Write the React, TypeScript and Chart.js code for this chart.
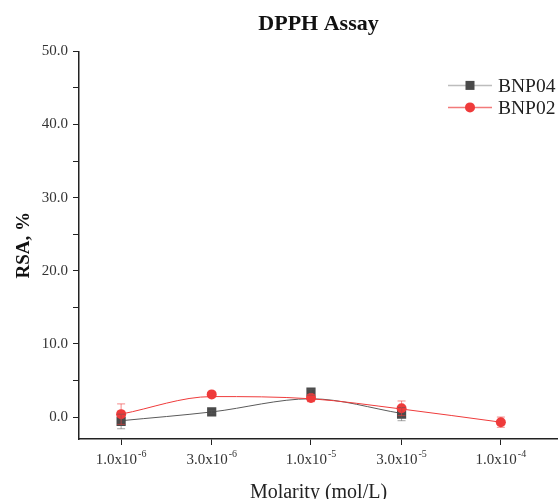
import React, { useEffect, useRef } from "react";
import { Chart, registerables } from "chart.js";

Chart.register(...registerables);

const chartTitle = "DPPH Assay";
const xAxisTitle = "Molarity (mol/L)";
const yAxisTitle = "RSA, %";
const molarities = [1e-6, 3e-6, 1e-5, 3e-5, 1e-4];
const xTickBases = ["1.0x10", "3.0x10", "1.0x10", "3.0x10", "1.0x10"];
const xTickExponents = ["-6", "-6", "-5", "-5", "-4"];
const yTickValues = [0, 5, 10, 15, 20, 25, 30, 35, 40, 45, 50];
const seriesNames = ["BNP04", "BNP02"];

// measured points
const bnp04Values = [-0.6, 0.7, 3.4, 0.4];
const bnp04Errors = [1.0, 0.2, 0.4, 0.9];
const bnp02Values = [0.4, 3.1, 2.6, 1.2, -0.7];
const bnp02Errors = [1.4, 0.2, 0.5, 1.0, 0.7];
// fitted curves read at the molarity positions
const bnp04Fit = [-0.5, 0.7, 2.5, 0.5];
const bnp02Fit = [0.4, 2.8, 2.5, 1.1, -0.7];

const GRAY = "#4a4a4a";
const GRAY_LINE = "#5a5a5a";
const RED = "#ef3b3b";
const SERIF = "'Liberation Serif', 'Times New Roman', serif";

const toXY = (vals: number[]) => vals.map((y, i) => ({ x: molarities[i], y }));

export default function App() {
  const ref = useRef<HTMLCanvasElement | null>(null);
  useEffect(() => {
    if (!ref.current) return;
    Chart.defaults.font.family = SERIF;

    const errorBars = {
      id: "errorBars",
      afterDatasetsDraw(chart: any) {
        const ctx = chart.ctx;
        const ys = chart.scales.y;
        const xs = chart.scales.x;
        const sets = [
          { vals: bnp04Values, errs: bnp04Errors, color: "rgba(90,90,90,0.55)" },
          { vals: bnp02Values, errs: bnp02Errors, color: "rgba(239,59,59,0.6)" },
        ];
        ctx.save();
        ctx.lineWidth = 1;
        sets.forEach((s) => {
          ctx.strokeStyle = s.color;
          s.vals.forEach((v, i) => {
            const px = xs.getPixelForValue(molarities[i]);
            const top = ys.getPixelForValue(v + s.errs[i]);
            const bot = ys.getPixelForValue(v - s.errs[i]);
            ctx.beginPath();
            ctx.moveTo(px, top);
            ctx.lineTo(px, bot);
            ctx.moveTo(px - 4, top);
            ctx.lineTo(px + 4, top);
            ctx.moveTo(px - 4, bot);
            ctx.lineTo(px + 4, bot);
            ctx.stroke();
          });
        });
        ctx.restore();
      },
    };

    const xLabelsPlugin = {
      id: "xLabels",
      afterDraw(chart: any) {
        const ctx = chart.ctx;
        const xs = chart.scales.x;
        const y = chart.chartArea.bottom + 21;
        ctx.save();
        ctx.fillStyle = "#333";
        ctx.textBaseline = "middle";
        molarities.forEach((m, i) => {
          const px = xs.getPixelForValue(m);
          ctx.font = `15px ${SERIF}`;
          const bw = ctx.measureText(xTickBases[i]).width;
          ctx.font = `10px ${SERIF}`;
          const ew = ctx.measureText(xTickExponents[i]).width;
          const x0 = px - (bw + ew + 1) / 2;
          ctx.textAlign = "left";
          ctx.font = `15px ${SERIF}`;
          ctx.fillText(xTickBases[i], x0, y);
          ctx.font = `10px ${SERIF}`;
          ctx.fillText(xTickExponents[i], x0 + bw + 1, y - 6);
        });
        ctx.restore();
      },
    };

    const legendPlugin = {
      id: "customLegend",
      afterDraw(chart: any) {
        const ctx = chart.ctx;
        const right = chart.chartArea.right;
        const top = chart.chartArea.top;
        const items = [
          { name: seriesNames[0], line: "#bdbdbd", fill: GRAY, style: "rect" },
          { name: seriesNames[1], line: "#f27a7a", fill: RED, style: "circle" },
        ];
        ctx.save();
        items.forEach((it, i) => {
          const y = top + 34 + i * 22;
          const x0 = right - 110;
          ctx.strokeStyle = it.line;
          ctx.lineWidth = 1.5;
          ctx.beginPath();
          ctx.moveTo(x0, y);
          ctx.lineTo(x0 + 44, y);
          ctx.stroke();
          ctx.fillStyle = it.fill;
          if (it.style === "rect") {
            ctx.fillRect(x0 + 22 - 4.5, y - 4.5, 9, 9);
          } else {
            ctx.beginPath();
            ctx.arc(x0 + 22, y, 5, 0, Math.PI * 2);
            ctx.fill();
          }
          ctx.fillStyle = "#222";
          ctx.font = `19.5px ${SERIF}`;
          ctx.textBaseline = "middle";
          ctx.textAlign = "left";
          ctx.fillText(it.name, x0 + 50, y + 1);
        });
        ctx.restore();
      },
    };

    const chart = new Chart(ref.current, {
      type: "line",
      data: {
        datasets: [
          {
            label: seriesNames[1] + " fit",
            data: toXY(bnp02Fit),
            borderColor: RED,
            borderWidth: 1,
            pointRadius: 0,
            cubicInterpolationMode: "monotone",
            order: 1,
          },
          {
            label: seriesNames[0] + " fit",
            data: toXY(bnp04Fit),
            borderColor: GRAY_LINE,
            borderWidth: 1,
            pointRadius: 0,
            cubicInterpolationMode: "monotone",
            order: 3,
          },
          {
            label: seriesNames[1],
            data: toXY(bnp02Values),
            showLine: false,
            pointStyle: "circle",
            pointRadius: 5,
            backgroundColor: RED,
            borderColor: RED,
            borderWidth: 0,
            order: 0,
          },
          {
            label: seriesNames[0],
            data: toXY(bnp04Values),
            showLine: false,
            pointStyle: "rect",
            pointRadius: 6.5,
            backgroundColor: GRAY,
            borderColor: GRAY,
            borderWidth: 0,
            order: 2,
          },
        ],
      },
      options: {
        animation: false,
        responsive: false,
        maintainAspectRatio: false,
        layout: { padding: 0, autoPadding: false },
        plugins: {
          legend: { display: false },
          tooltip: { enabled: false },
          title: {
            display: true,
            text: chartTitle,
            fullSize: false,
            color: "#111",
            font: { size: 22, weight: "bold" },
            padding: { top: 11, bottom: 14 },
          },
        },
        scales: {
          x: {
            type: "logarithmic",
            min: 6e-7,
            max: 2e-4,
            afterBuildTicks: (scale: any) => {
              scale.ticks = molarities.map((v) => ({ value: v, major: false }));
            },
            afterFit: (scale: any) => {
              scale.height = 60;
              scale.paddingLeft = 0;
              scale.paddingRight = 0;
            },
            border: { display: true, color: "#222", width: 1.5 },
            grid: {
              drawOnChartArea: false,
              drawTicks: true,
              tickLength: 6,
              tickColor: "#222",
              tickWidth: 1,
            },
            ticks: {
              autoSkip: false,
              maxRotation: 0,
              color: "rgba(0,0,0,0)",
              padding: 9,
              font: { size: 13 },
              callback: () => " ",
            },
            title: {
              display: true,
              text: xAxisTitle,
              color: "#222",
              font: { size: 20 },
              padding: { top: 0, bottom: -6 },
            },
          },
          y: {
            type: "linear",
            min: -3,
            max: 50,
            afterBuildTicks: (scale: any) => {
              scale.ticks = yTickValues.map((v) => ({ value: v }));
            },
            afterFit: (scale: any) => {
              scale.width = 79;
            },
            border: { display: true, color: "#222", width: 1.5 },
            grid: {
              drawOnChartArea: false,
              drawTicks: true,
              tickLength: 6,
              tickColor: "#222",
              tickWidth: 1,
            },
            ticks: {
              color: "#333",
              padding: 5,
              font: { size: 15 },
              callback: (v: any) => (Number(v) % 10 === 0 ? Number(v).toFixed(1) : ""),
            },
            title: {
              display: true,
              text: yAxisTitle,
              color: "#111",
              font: { size: 19, weight: "bold" },
              padding: { top: 13, bottom: 0 },
            },
          },
        },
      } as any,
      plugins: [errorBars, xLabelsPlugin, legendPlugin],
    });
    return () => chart.destroy();
  }, []);

  return (
    <div style={{ position: "fixed", left: 0, top: 0, width: 558, height: 499, background: "#fff" }}>
      <canvas ref={ref} width={558} height={499} style={{ display: "block", width: 558, height: 499 }} />
    </div>
  );
}
